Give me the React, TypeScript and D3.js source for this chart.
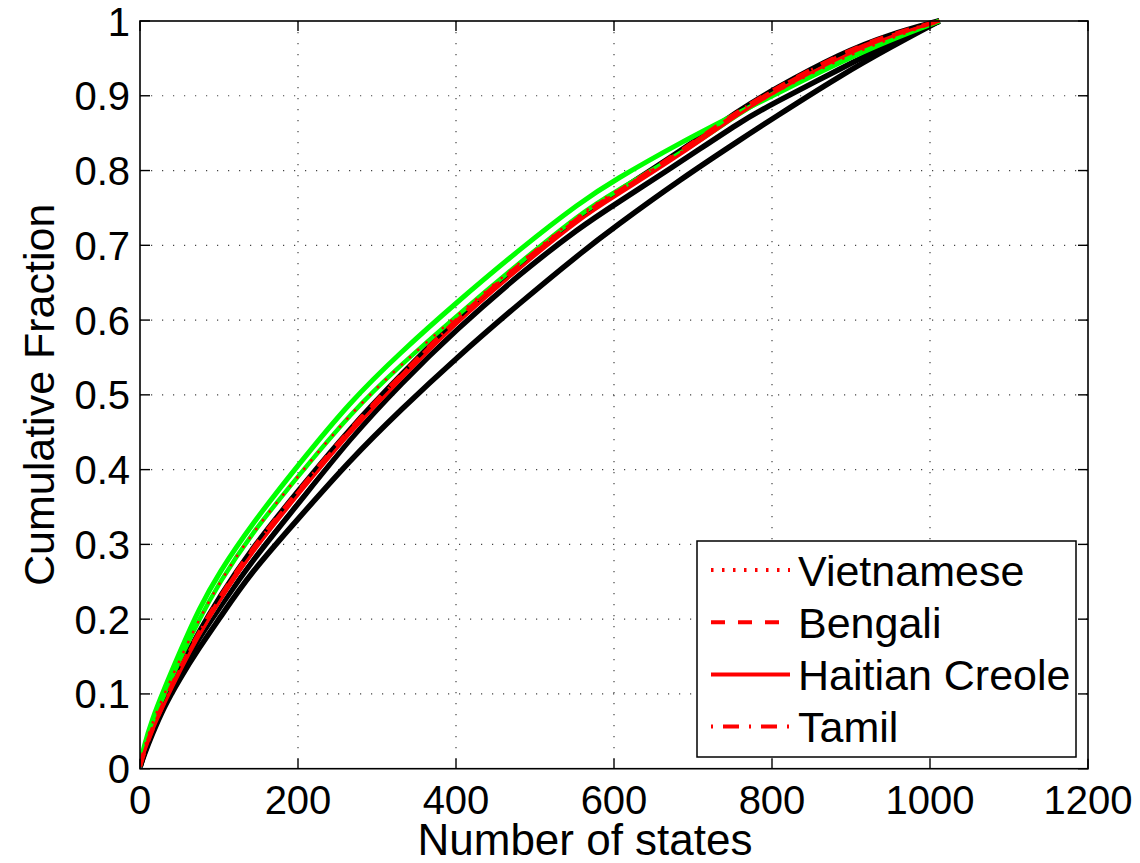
import React, { useEffect, useRef } from "react";
import * as d3 from "d3";

// ---- data ----
const xs = [0, 5, 15, 30, 50, 75, 100, 140, 200, 266, 330, 400, 482, 558, 600, 685, 761, 800, 888, 950, 1012];

const green1 = [0.005, 0.03, 0.065, 0.105, 0.155, 0.215, 0.262, 0.325, 0.406, 0.491, 0.557, 0.623, 0.696, 0.758, 0.787, 0.838, 0.879, 0.9, 0.946, 0.975, 1.0];
const green2 = [0.004, 0.027, 0.06, 0.098, 0.145, 0.2, 0.248, 0.313, 0.391, 0.475, 0.54, 0.605, 0.678, 0.743, 0.771, 0.823, 0.878, 0.903, 0.95, 0.977, 1.0];
const black1 = [0.003, 0.022, 0.052, 0.088, 0.133, 0.183, 0.228, 0.292, 0.371, 0.455, 0.526, 0.601, 0.676, 0.74, 0.768, 0.826, 0.882, 0.907, 0.957, 0.982, 1.0];
const whiteLn = [0.003, 0.021, 0.05, 0.085, 0.128, 0.177, 0.221, 0.284, 0.362, 0.448, 0.52, 0.594, 0.669, 0.734, 0.762, 0.818, 0.875, 0.897, 0.947, 0.976, 1.0];
const black2 = [0.003, 0.02, 0.048, 0.084, 0.128, 0.176, 0.214, 0.276, 0.354, 0.442, 0.515, 0.587, 0.663, 0.725, 0.754, 0.812, 0.866, 0.889, 0.937, 0.97, 1.0];
const black3 = [0.002, 0.018, 0.045, 0.082, 0.12, 0.162, 0.2, 0.262, 0.334, 0.413, 0.48, 0.549, 0.624, 0.69, 0.724, 0.789, 0.842, 0.869, 0.928, 0.965, 1.0];
const haitian = [0.003, 0.021, 0.05, 0.085, 0.129, 0.179, 0.223, 0.287, 0.366, 0.45, 0.521, 0.596, 0.671, 0.736, 0.764, 0.821, 0.878, 0.903, 0.953, 0.98, 1.0];

const xTicks = [0, 200, 400, 600, 800, 1000, 1200];
const yTicks = [0, 0.1, 0.2, 0.3, 0.4, 0.5, 0.6, 0.7, 0.8, 0.9, 1];
const yTickLabels = ["0", "0.1", "0.2", "0.3", "0.4", "0.5", "0.6", "0.7", "0.8", "0.9", "1"];

const legendNames = ["Vietnamese", "Bengali", "Haitian Creole", "Tamil"];
const legendDash = ["2.5,8.5", "14,13", null, "2,10,16,10"];

const W = 1140, H = 863;
const M = { left: 140, right: 1088, top: 21, bottom: 768.7 };

export default function App() {
  const ref = useRef<SVGSVGElement>(null);
  useEffect(() => {
    const svg = d3.select(ref.current);
    svg.selectAll("*").remove();
    const x = d3.scaleLinear().domain([0, 1200]).range([M.left, M.right]);
    const y = d3.scaleLinear().domain([0, 1]).range([M.bottom, M.top]);
    const font = "'Liberation Sans', Arial, Helvetica, sans-serif";

    // grid
    const g = svg.append("g");
    xTicks.slice(1, -1).forEach((t) => {
      g.append("line").attr("x1", x(t)).attr("x2", x(t)).attr("y1", M.top).attr("y2", M.bottom)
        .attr("stroke", "#444").attr("stroke-width", 1.2).attr("stroke-dasharray", "1.2,9.8");
    });
    yTicks.slice(1, -1).forEach((t) => {
      g.append("line").attr("x1", M.left).attr("x2", M.right).attr("y1", y(t)).attr("y2", y(t))
        .attr("stroke", "#444").attr("stroke-width", 1.2).attr("stroke-dasharray", "1.2,9.8");
    });

    const line = (arr: number[]) =>
      d3.line<number>().x((_, i) => x(xs[i])).y((d) => y(d)).curve(d3.curveBasis)(arr) as string;

    const clipId = "plotclip";
    svg.append("clipPath").attr("id", clipId).append("rect")
      .attr("x", M.left).attr("y", M.top - 3).attr("width", M.right - M.left).attr("height", M.bottom - M.top + 3);
    const c = svg.append("g").attr("clip-path", `url(#${clipId})`);
    const draw = (arr: number[], color: string, w: number, dash?: string | null) => {
      const p = c.append("path").attr("d", line(arr)).attr("fill", "none").attr("stroke", color)
        .attr("stroke-width", w).attr("stroke-linejoin", "round");
      if (dash) p.attr("stroke-dasharray", dash);
    };
    draw(black3, "#000", 5.5);
    draw(black2, "#000", 5.5);
    draw(whiteLn, "#fff", 1.3);
    draw(black1, "#000", 6);
    draw(green1, "#00ff00", 5);
    draw(green2, "#00ff00", 4.5);
    draw(green2, "#ff0000", 2.5, legendDash[0]);
    draw(haitian, "#ff0000", 3);
    draw(black1, "#ff0000", 4.5, legendDash[1]);
    draw(black1, "#ff0000", 3, legendDash[3]);

    // axes box
    svg.append("rect").attr("x", M.left).attr("y", M.top).attr("width", M.right - M.left).attr("height", M.bottom - M.top)
      .attr("fill", "none").attr("stroke", "#000").attr("stroke-width", 1.6);

    // ticks
    xTicks.forEach((t) => {
      svg.append("line").attr("x1", x(t)).attr("x2", x(t)).attr("y1", M.bottom).attr("y2", M.bottom - 10).attr("stroke", "#000").attr("stroke-width", 1.4);
      svg.append("line").attr("x1", x(t)).attr("x2", x(t)).attr("y1", M.top).attr("y2", M.top + 10).attr("stroke", "#000").attr("stroke-width", 1.4);
      svg.append("text").attr("x", x(t)).attr("y", 814).attr("text-anchor", "middle")
        .attr("font-family", font).attr("font-size", 40).attr("fill", "#000").text(String(t));
    });
    yTicks.forEach((t, i) => {
      svg.append("line").attr("x1", M.left).attr("x2", M.left + 10).attr("y1", y(t)).attr("y2", y(t)).attr("stroke", "#000").attr("stroke-width", 1.4);
      svg.append("line").attr("x1", M.right).attr("x2", M.right - 10).attr("y1", y(t)).attr("y2", y(t)).attr("stroke", "#000").attr("stroke-width", 1.4);
      svg.append("text").attr("x", 130).attr("y", y(t) + 14.5).attr("text-anchor", "end")
        .attr("font-family", font).attr("font-size", 40).attr("fill", "#000").text(yTickLabels[i]);
    });

    // axis labels
    svg.append("text").attr("x", 585).attr("y", 855).attr("text-anchor", "middle")
      .attr("font-family", font).attr("font-size", 44).attr("fill", "#000").text("Number of states");
    svg.append("text").attr("transform", `translate(54, ${(M.top + M.bottom) / 2}) rotate(-90)`).attr("text-anchor", "middle")
      .attr("font-family", font).attr("font-size", 43).attr("fill", "#000").text("Cumulative Fraction");

    // legend
    const lg = svg.append("g");
    lg.append("rect").attr("x", 697).attr("y", 541).attr("width", 379).attr("height", 216)
      .attr("fill", "#fff").attr("stroke", "#000").attr("stroke-width", 1.5);
    legendNames.forEach((name, i) => {
      const yy = 570 + i * 52.2;
      const l = lg.append("line").attr("x1", 711).attr("x2", 790).attr("y1", yy).attr("y2", yy)
        .attr("stroke", "#ff0000").attr("stroke-width", 4);
      if (legendDash[i]) l.attr("stroke-dasharray", legendDash[i] as string);
      lg.append("text").attr("x", 798).attr("y", yy + 15.5).attr("font-family", font).attr("font-size", 43)
        .attr("fill", "#000").text(name);
    });
  }, []);
  return (
    <svg ref={ref} width={W} height={H} style={{ position: "absolute", left: 0, top: 0, background: "#fff" }} />
  );
}
